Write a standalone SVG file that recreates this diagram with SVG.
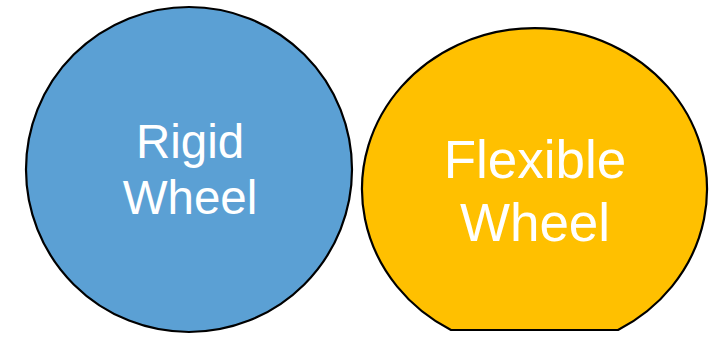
<svg xmlns="http://www.w3.org/2000/svg" width="719" height="337" viewBox="0 0 719 337">
  <style>
    .shape { stroke: #000; stroke-width: 2.2; }
    .lbl { font-family: "Liberation Sans", Arial, sans-serif; fill: #fff; text-anchor: middle; }
  </style>
  <rect width="719" height="337" fill="#fff"/>
  <g id="rigid-wheel">
    <ellipse class="shape" cx="189" cy="169.5" rx="163" ry="162.5" fill="#5BA0D4"/>
    <text class="lbl" font-size="47.5"><tspan x="190" y="158">Rigid</tspan><tspan x="190" y="214">Wheel</tspan></text>
  </g>
  <g id="flexible-wheel">
    <path class="shape" fill="#FFC000" d="M 451 330 A 172.5 161 0 1 1 618 330 Z"/>
    <text class="lbl" font-size="53"><tspan x="535" y="177.5">Flexible</tspan><tspan x="535" y="241">Wheel</tspan></text>
  </g>
</svg>
